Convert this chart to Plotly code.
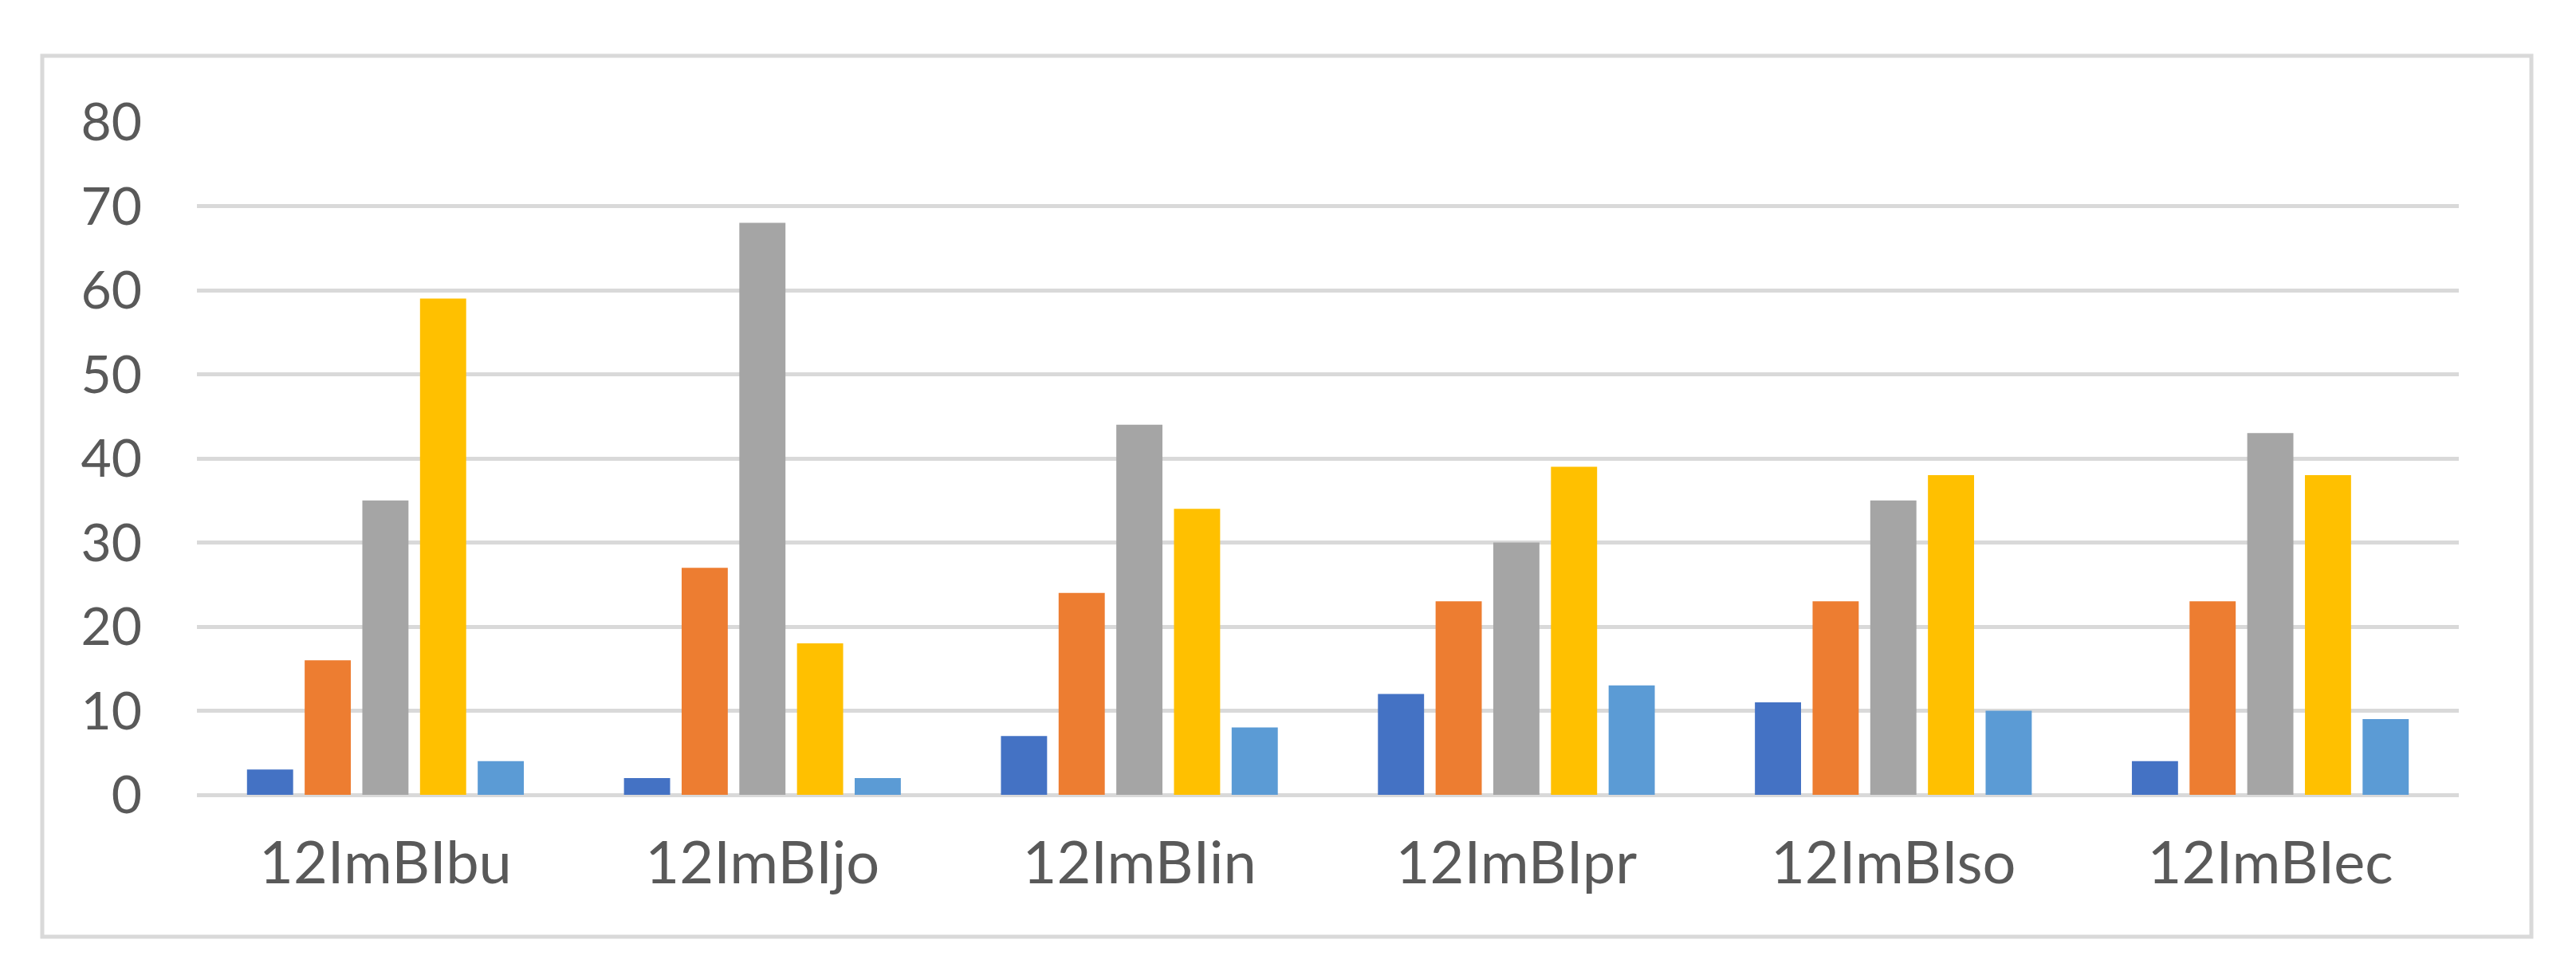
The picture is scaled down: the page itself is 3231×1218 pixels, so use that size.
import plotly.graph_objects as go

categories = ["12ImBIbu", "12ImBIjo", "12ImBIin", "12ImBIpr", "12ImBIso", "12ImBIec"]
series_names = ["Series 1", "Series 2", "Series 3", "Series 4", "Series 5"]
s1 = [3, 2, 7, 12, 11, 4]
s2 = [16, 27, 24, 23, 23, 23]
s3 = [35, 68, 44, 30, 35, 43]
s4 = [59, 18, 34, 39, 38, 38]
s5 = [4, 2, 8, 13, 10, 9]
y_ticks = [0, 10, 20, 30, 40, 50, 60, 70, 80]

colors = ["#4472C4", "#ED7D31", "#A5A5A5", "#FFC000", "#5B9BD5"]
series = [s1, s2, s3, s4, s5]

fig = go.Figure()
for name, vals, c in zip(series_names, series, colors):
    fig.add_trace(go.Bar(x=categories, y=vals, name=name, marker=dict(color=c, line=dict(width=0))))

W, H = 3231, 1218
L, R, T, B = 239, 3076, 145, 989
fig.update_layout(
    width=W, height=H,
    margin=dict(l=L, r=W - R, t=T, b=H - B),
    paper_bgcolor="white", plot_bgcolor="white",
    barmode="group", bargap=0.235, bargroupgap=0.2,
    showlegend=False,
    font=dict(family="Lato, Open Sans, sans-serif", size=66, color="#595959"),
)
fig.update_xaxes(showgrid=False, showline=False, zeroline=False, ticks="",
                 tickfont=dict(size=74, color="#595959"), ticklabelstandoff=36)
fig.update_yaxes(range=[0, 80], tickvals=y_ticks, showgrid=True, gridcolor="#D9D9D9", gridwidth=5,
                 zeroline=True, zerolinecolor="#D9D9D9", zerolinewidth=5, showline=False, ticks="",
                 tickfont=dict(size=66, color="#595959"), ticklabelstandoff=68)

pw, ph = R - L, B - T
bx0, by0, bx1, by1 = 45, 62, 3167, 1167
fig.add_shape(type="rect", xref="paper", yref="paper",
              x0=(bx0 - L) / pw, x1=(bx1 - L) / pw,
              y0=(B - by1) / ph, y1=(B - by0) / ph,
              line=dict(color="#D9D9D9", width=5), fillcolor="rgba(0,0,0,0)", layer="below")

fig.write_html("out.html")
